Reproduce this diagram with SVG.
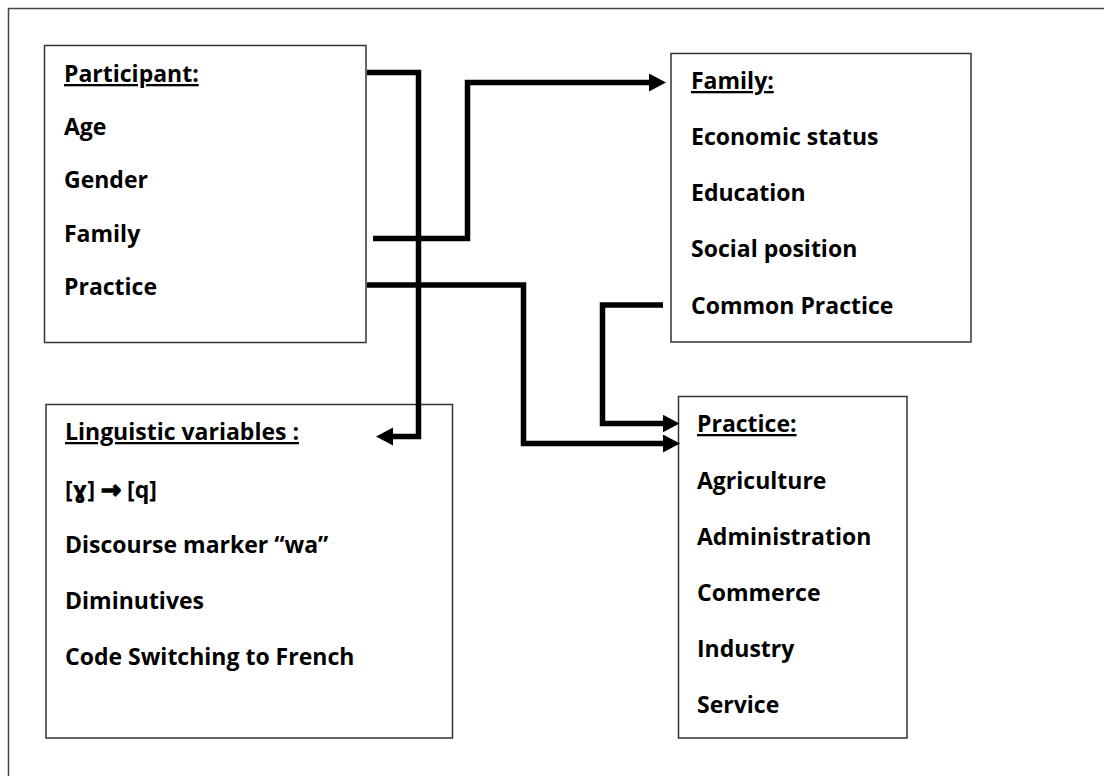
<svg xmlns="http://www.w3.org/2000/svg" width="1104" height="776" viewBox="0 0 1104 776">
<style>
.box{fill:#fff;stroke:#333;stroke-width:1.5}
.t{font-family:"Open Sans","DejaVu Sans",sans-serif;font-weight:bold;font-size:23px;fill:#000}
.h{text-decoration:underline}
.ar{font-family:"DejaVu Sans",sans-serif;font-size:24px;stroke:#000;stroke-width:1.6}
.c{fill:none;stroke:#000;stroke-width:5.5;stroke-linejoin:miter}
</style>
<defs>
<marker id="ah" markerUnits="userSpaceOnUse" markerWidth="20" markerHeight="20" refX="3" refY="9" orient="auto">
<path d="M0,0 L17,9 L0,18 Z" fill="#000"/>
</marker>
</defs>
<rect width="1104" height="776" fill="#fff"/>
<path d="M8.5,776 V8.5 H1104" fill="none" stroke="#444" stroke-width="1.5"/>
<g id="participant">
<rect class="box" x="44.5" y="45.5" width="321.5" height="297"/>
<text class="t h" x="64" y="82">Participant:</text>
<text class="t" x="64" y="135">Age</text>
<text class="t" x="64" y="188">Gender</text>
<text class="t" x="64" y="241.5">Family</text>
<text class="t" x="64" y="295">Practice</text>
</g>
<g id="family">
<rect class="box" x="671" y="53.5" width="300" height="288.5"/>
<text class="t h" x="691" y="89">Family:</text>
<text class="t" x="691" y="145">Economic status</text>
<text class="t" x="691" y="201">Education</text>
<text class="t" x="691" y="257">Social position</text>
<text class="t" x="691" y="314">Common Practice</text>
</g>
<g id="linguistic">
<rect class="box" x="46" y="404.5" width="406.5" height="333.5"/>
<text class="t h" x="65" y="440">Linguistic variables :</text>
<text class="t" x="65" y="498">[ɣ] <tspan class="ar">→</tspan> [q]</text>
<text class="t" x="65" y="553">Discourse marker “wa”</text>
<text class="t" x="65" y="609">Diminutives</text>
<text class="t" x="65" y="665">Code Switching to French</text>
</g>
<g id="practice">
<rect class="box" x="678.5" y="396.5" width="228.5" height="341.5"/>
<text class="t h" x="697" y="432">Practice:</text>
<text class="t" x="697" y="489">Agriculture</text>
<text class="t" x="697" y="545">Administration</text>
<text class="t" x="697" y="601">Commerce</text>
<text class="t" x="697" y="657">Industry</text>
<text class="t" x="697" y="713">Service</text>
</g>
<g id="connectors">
<path class="c" d="M367,72.5 H418.5 V436.5 H390" marker-end="url(#ah)"/>
<path class="c" d="M373,238.5 H467.5 V82.5 H652" marker-end="url(#ah)"/>
<path class="c" d="M367,285 H523.5 V443.5 H666" marker-end="url(#ah)"/>
<path class="c" d="M663,305 H602.5 V423.5 H665.5" marker-end="url(#ah)"/>
</g>
</svg>
